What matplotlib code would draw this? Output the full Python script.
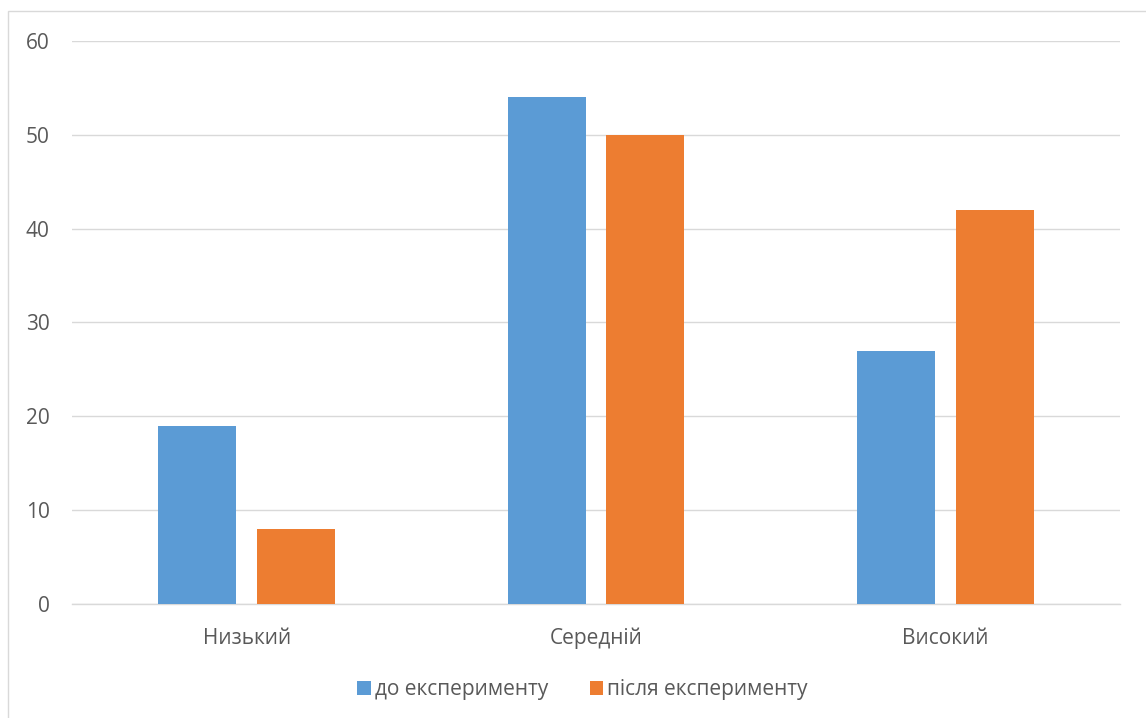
import numpy as np
import matplotlib.pyplot as plt
from matplotlib.patches import Rectangle

plt.rcParams['font.family'] = ['Open Sans', 'DejaVu Sans']

# Data
categories = ["Низький", "Середній", "Високий"]
before = [19, 54, 27]
after = [8, 50, 42]
series_names = ["до експерименту", "після експерименту"]

blue = "#5B9BD5"
orange = "#ED7D31"
text_col = "#595959"
grid_col = "#D9D9D9"

fig = plt.figure(figsize=(11.46, 7.18), dpi=100)
# outer chart border (cut off on the right and bottom)
fig.patches.append(Rectangle((8 / 1146, -0.05), 1.2, 1 - 11 / 718 + 0.05,
                             transform=fig.transFigure, fill=False,
                             edgecolor="#D9D9D9", linewidth=1.0))

ax = fig.add_axes([72 / 1146, 1 - 604 / 718, (1120 - 72) / 1146, (604 - 41) / 718])

x = np.arange(len(categories))
w = 0.223
off = w / 2 + 0.03
ax.bar(x - off, before, width=w, color=blue, label=series_names[0], zorder=3)
ax.bar(x + off, after, width=w, color=orange, label=series_names[1], zorder=3)

ax.set_xlim(-0.5, 2.5)
ax.set_ylim(0, 60)
ax.set_yticks(range(0, 61, 10))
ax.yaxis.grid(True, color=grid_col, linewidth=1.0, zorder=0)
ax.set_axisbelow(True)
for s in ["top", "right", "left"]:
    ax.spines[s].set_visible(False)
ax.spines["bottom"].set_color(grid_col)
ax.spines["bottom"].set_linewidth(1.0)

ax.set_xticks(x)
ax.set_xticklabels(categories)
ax.tick_params(axis="both", length=0, labelsize=15, labelcolor=text_col)
ax.tick_params(axis="x", pad=17)
ax.tick_params(axis="y", pad=16)

leg = fig.legend(loc="center", bbox_to_anchor=(582.5 / 1146, 1 - 690 / 718), ncol=2,
                 frameon=False, fontsize=15, handlelength=0.65, handleheight=0.65,
                 handletextpad=0.2, columnspacing=2.0)
for t in leg.get_texts():
    t.set_color(text_col)

fig.savefig("out.png", dpi=100)
